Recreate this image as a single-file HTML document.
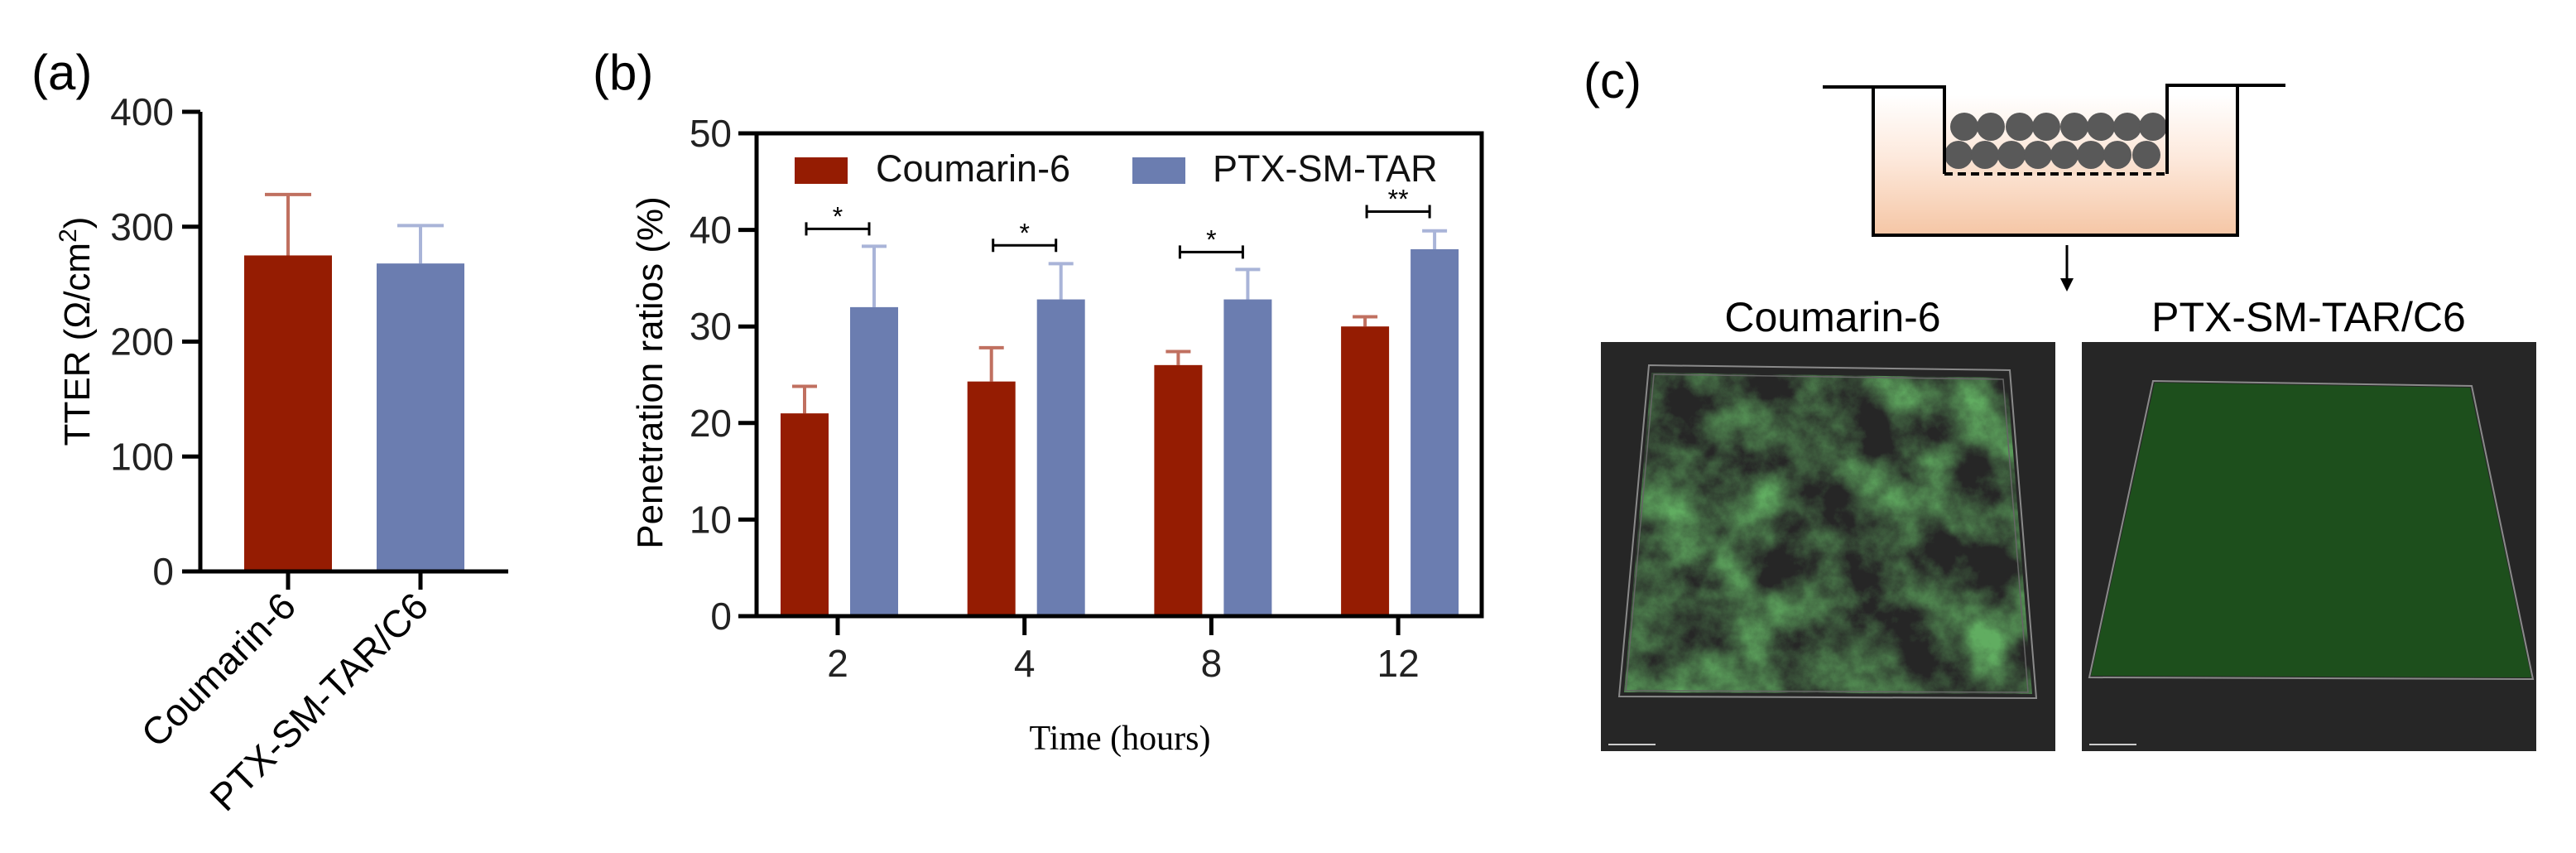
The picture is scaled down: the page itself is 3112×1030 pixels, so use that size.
<!DOCTYPE html>
<html><head><meta charset="utf-8"><style>
html,body{margin:0;padding:0;background:#fff;}
svg{display:block;font-family:"Liberation Sans",Arial,sans-serif;}
</style></head><body>
<svg id="fig" width="3112" height="1030" viewBox="0 0 3112 1030" xmlns="http://www.w3.org/2000/svg">
<defs>
<linearGradient id="medium" x1="0" y1="0" x2="0" y2="1">
<stop offset="0" stop-color="#fff"/><stop offset="0.45" stop-color="#fde9dc"/><stop offset="1" stop-color="#f5c6a5"/>
</linearGradient>
<filter id="blotch" x="0" y="0" width="1" height="1">
<feTurbulence type="fractalNoise" baseFrequency="0.014" numOctaves="6" seed="7" result="n"/>
<feColorMatrix in="n" type="matrix" values="0 0 0 0 0.12  0 0 0 0 0.42  0 0 0 0 0.12  2.2 0 0 0 -0.75"/>
</filter>
<clipPath id="clipL"><polygon points="1995,450 2425,456 2455,838 1962,836"/></clipPath>
</defs>
<g id="pa"></g>
<g id="pb"></g>
<g id="pc">
<text x="1913" y="118" font-size="60">(c)</text>
<g>
<rect x="2263" y="115" width="440" height="169" fill="url(#medium)"/>
<rect x="2349" y="105" width="269" height="105" fill="#fff"/>
<rect x="2349" y="115" width="269" height="95" fill="url(#medium)" opacity="0.6"/>
<g fill="#595959" id="cells"></g>
<polyline points="2202,105 2349,105 2349,210" fill="none" stroke="#000" stroke-width="4"/>
<polyline points="2618,210 2618,103 2761,103" fill="none" stroke="#000" stroke-width="4"/>
<line x1="2349" y1="210" x2="2618" y2="210" stroke="#000" stroke-width="4" stroke-dasharray="10,6"/>
<polyline points="2263,105 2263,284 2703,284 2703,105" fill="none" stroke="#000" stroke-width="4"/>
</g>
<g>
<line x1="2497" y1="296" x2="2497" y2="340" stroke="#000" stroke-width="3"/>
<polygon points="2489,336 2505,336 2497,352" fill="#000"/>
</g>
<text x="2214" y="400" font-size="50" text-anchor="middle">Coumarin-6</text>
<text x="2789" y="400" font-size="50" text-anchor="middle">PTX-SM-TAR/C6</text>
<g>
<rect x="1934" y="413" width="549" height="494" fill="#262626"/>
<g clip-path="url(#clipL)"><rect x="1934" y="413" width="549" height="494" filter="url(#blotch)"/></g>
<polygon points="1992,441 2428,447 2460,843 1956,841" fill="none" stroke="#8a8a8a" stroke-width="2"/>
<polygon points="1998,452 2420,458 2450,836 1964,834" fill="none" stroke="#666" stroke-width="1.5"/>
<line x1="1943" y1="899" x2="2000" y2="899" stroke="#ccc" stroke-width="2"/>
</g>
<g>
<rect x="2515" y="413" width="549" height="494" fill="#262626"/>
<polygon points="2603,462 2984,468 3058,818 2526,816" fill="#1d4f1c"/>
<polygon points="2601,460 2986,466 3060,820 2524,818" fill="none" stroke="#8a8a8a" stroke-width="2"/>
<line x1="2524" y1="899" x2="2581" y2="899" stroke="#ccc" stroke-width="2"/>
</g>
</g>
</svg>
<script>
// ---- Panel (a) data ----
const aCategories = ["Coumarin-6", "PTX-SM-TAR/C6"];
const aValues = [275, 268];
const aErrors = [53, 33];
const aTicks = [0, 100, 200, 300, 400];
// ---- Panel (b) data ----
const bCategories = ["2", "4", "8", "12"];
const bSeriesNames = ["Coumarin-6", "PTX-SM-TAR"];
const bCoumarin = [21, 24.3, 26, 30];
const bCoumarinErr = [2.8, 3.5, 1.4, 1];
const bPtx = [32, 32.8, 32.8, 38];
const bPtxErr = [6.3, 3.7, 3.1, 1.9];
const bSigLevel = [40.1, 38.4, 37.7, 41.9];
const bSigLabels = ["*", "*", "*", "**"];
const bTicks = [0, 10, 20, 30, 40, 50];

const NS = "http://www.w3.org/2000/svg";
function mk(parent, tag, attrs, text) {
  const e = document.createElementNS(NS, tag);
  for (const k in attrs) e.setAttribute(k, attrs[k]);
  if (text !== undefined) e.textContent = text;
  parent.appendChild(e);
  return e;
}
const RED = "#951c02", BLUE = "#6b7db0", RED_E = "#c07060", BLUE_E = "#a9b4d8";

// Panel a
(function () {
  const g = document.getElementById("pa");
  const x0 = 242, xEnd = 614, y0 = 690, yTop = 135, max = 400;
  const ya = v => y0 - (v / max) * (y0 - yTop);
  const xc = i => 348 + i * 160;
  const t = mk(g, "text", { x: 38, y: 108, "font-size": 60 }, "(a)");
  
  
  const cols = [RED, BLUE], ecols = [RED_E, BLUE_E];
  aValues.forEach((v, i) => {
    const top = ya(v + aErrors[i]);
    const el = mk(g, "line", { x1: xc(i), x2: xc(i), y1: top, y2: ya(v), stroke: ecols[i], "stroke-width": 4 });
    
    
    mk(g, "line", { x1: xc(i) - 28, x2: xc(i) + 28, y1: top, y2: top, stroke: ecols[i], "stroke-width": 4 });
    const b = mk(g, "rect", { x: xc(i) - 53, y: ya(v), width: 106, height: y0 - ya(v), fill: cols[i] });
    
    
    mk(g, "line", { x1: xc(i), x2: xc(i), y1: y0, y2: 712, stroke: "#000", "stroke-width": 5 });
    const lab = mk(g, "text", { x: xc(i) + 12, y: 735, "font-size": 46, "text-anchor": "end", transform: `rotate(-45 ${xc(i) + 12} 735)` }, aCategories[i]);
    
    
  });
  const ax = mk(g, "path", { d: `M${x0},${yTop} V${y0} H${xEnd}`, fill: "none", stroke: "#000", "stroke-width": 5 });
  
  
  aTicks.forEach(v => {
    mk(g, "line", { x1: 220, x2: x0, y1: ya(v), y2: ya(v), stroke: "#000", "stroke-width": 5 });
    const tl = mk(g, "text", { x: 210, y: ya(v) + 16, "font-size": 46, "text-anchor": "end", fill: "#222" }, v);
    
    
  });
  const yt = mk(g, "text", { x: 0, y: 0, "font-size": 44, "text-anchor": "middle", transform: "translate(108,400) rotate(-90)" });
  
  
  yt.innerHTML = 'TTER (Ω/cm<tspan dy="-16" font-size="30">2</tspan><tspan dy="16">)</tspan>';
})();

// Panel b
(function () {
  const g = document.getElementById("pb");
  const x0 = 914, x1 = 1790, y0 = 744, yTop = 161, max = 50;
  const yb = v => y0 - (v / max) * (y0 - yTop);
  const xc = i => 1012 + i * 225.7;
  const t = mk(g, "text", { x: 716, y: 108, "font-size": 60 }, "(b)");
  
  
  const series = [[bCoumarin, bCoumarinErr, RED, RED_E, -40], [bPtx, bPtxErr, BLUE, BLUE_E, 44]];
  bCategories.forEach((c, i) => {
    series.forEach((s, k) => {
      const v = s[0][i], e = s[1][i], cx = xc(i) + s[4];
      const top = yb(v + e);
      const el = mk(g, "line", { x1: cx, x2: cx, y1: top, y2: yb(v), stroke: s[3], "stroke-width": 4 });
      
      
      mk(g, "line", { x1: cx - 15, x2: cx + 15, y1: top, y2: top, stroke: s[3], "stroke-width": 4 });
      const b = mk(g, "rect", { x: cx - 29, y: yb(v), width: 58, height: y0 - yb(v), fill: s[2] });
      
      
    });
    const sy = yb(bSigLevel[i]);
    const bl = xc(i) - 38, br = xc(i) + 38;
    const br1 = mk(g, "path", { d: `M${bl},${sy - 8} V${sy + 8} M${bl},${sy} H${br} M${br},${sy - 8} V${sy + 8}`, stroke: "#000", "stroke-width": 3, fill: "none" });
    
    
    const st = mk(g, "text", { x: xc(i), y: sy - 4, "font-size": 32, "text-anchor": "middle" }, bSigLabels[i]);
    
    
    mk(g, "line", { x1: xc(i), x2: xc(i), y1: y0, y2: 767, stroke: "#000", "stroke-width": 5 });
    const xl = mk(g, "text", { x: xc(i), y: 817, "font-size": 46, "text-anchor": "middle", fill: "#222" }, c);
    
    
  });
  const fr = mk(g, "rect", { x: x0, y: yTop, width: x1 - x0, height: y0 - yTop, fill: "none", stroke: "#000", "stroke-width": 5 });
  
  
  bTicks.forEach(v => {
    mk(g, "line", { x1: 892, x2: x0, y1: yb(v), y2: yb(v), stroke: "#000", "stroke-width": 5 });
    const tl = mk(g, "text", { x: 884, y: yb(v) + 16, "font-size": 46, "text-anchor": "end", fill: "#222" }, v);
    
    
  });
  const yt = mk(g, "text", { x: 0, y: 0, "font-size": 44, "text-anchor": "middle", transform: "translate(800,450) rotate(-90)" }, "Penetration ratios (%)");
  
  
  const xt = mk(g, "text", { x: 1353, y: 905, "font-size": 42, "text-anchor": "middle", "font-family": "Liberation Serif, serif" }, "Time (hours)");
  
  
  const lg = [[960, RED, 1058], [1368, BLUE, 1465]];
  lg.forEach((l, k) => {
    const sw = mk(g, "rect", { x: l[0], y: 190, width: 64, height: 32, fill: l[1] });
    
    
    const lt = mk(g, "text", { x: l[2], y: 219, "font-size": 45, fill: "#111" }, bSeriesNames[k]);
    
    
  });
})();

// cells in transwell diagram
(function () {
  const g = document.getElementById("cells");
  const row1 = [2373, 2405, 2440, 2472, 2506, 2538, 2570, 2601];
  const row2 = [2366, 2398, 2430, 2462, 2494, 2526, 2558, 2593];
  row1.forEach(x => mk(g, "circle", { cx: x, cy: 153, r: 17 }));
  row2.forEach(x => mk(g, "circle", { cx: x, cy: 187, r: 17 }));
})();
</script>
</body></html>
